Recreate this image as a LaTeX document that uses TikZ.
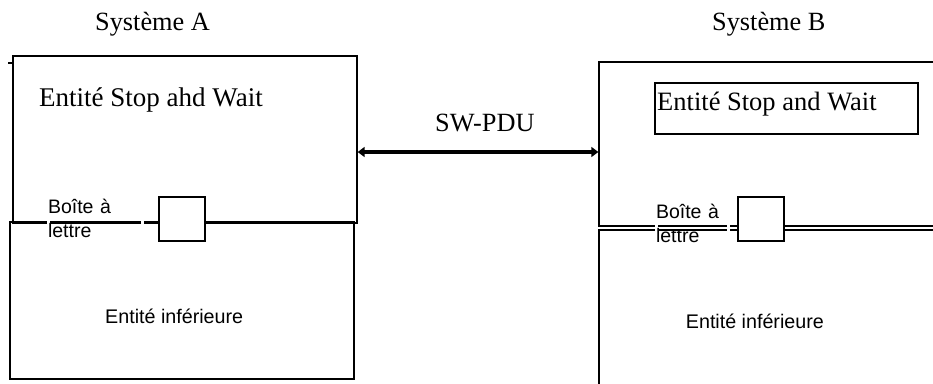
\documentclass[tikz,border=0pt]{standalone}
\usepackage{fontspec}
\setmainfont{Liberation Serif}
\newfontfamily\arialfont{Liberation Sans}
\usetikzlibrary{arrows.meta}
\begin{document}
\begin{tikzpicture}[x=1pt,y=-1pt,
  box/.style={draw, line width=2pt, inner sep=0pt, anchor=north west},
  titletext/.style={anchor=base west, inner sep=0pt, font=\fontsize{26.3}{30}\selectfont},
  sanstext/.style={anchor=base west, inner sep=0pt, font=\arialfont\fontsize{19.7}{24}\selectfont},
  mailbox/.style={draw, fill=white, line width=2pt, inner sep=0pt, anchor=north west, minimum width=46pt, minimum height=44pt},
  mailtext/.style={draw=white, line width=3pt, anchor=base west, inner xsep=0pt, inner ysep=2pt, align=left, font=\arialfont\fontsize{19.5}{24}\selectfont},
  pdu/.style={line width=3.5pt, {Triangle[length=7pt,width=10pt]}-{Triangle[length=7pt,width=10pt]}}
]
\useasboundingbox (0,0) rectangle (933,383);
\clip (0,0) rectangle (933,383);

% System labels
\node[titletext] (labA) at (95,30.7) {Système A};
\node[titletext] (labB) at (712,30.7) {Système B};

% System A boxes
\node[box, minimum width=344pt, minimum height=167pt] (aTop) at (11.7,55) {};
\node[box, minimum width=344pt, minimum height=157.6pt] (aBot) at (9.3,220.7) {};
\draw[line width=2pt] (aTop.north west) ++(-3.7,8) -- ++(3.7,0);

% System B boxes (extend past the right edge)
\node[box, minimum width=360pt, minimum height=164.5pt] (bTop) at (598.3,60.5) {};
\node[box, minimum width=360pt, minimum height=170pt] (bBot) at (598.3,229.3) {};

% Upper entities
\node[titletext, font=\fontsize{27}{30}\selectfont] (entA) at (39,106.7) {Entité Stop ahd Wait};
\node[box, minimum width=262.7pt, minimum height=51pt] (entBbox) at (654,81.7) {};
\node[titletext, font=\fontsize{26.5}{30}\selectfont] (entB) at (657,110) {Entité Stop and Wait};

% Mailboxes
\node[mailbox] (sqA) at (158,196) {};
\node[mailbox] (sqB) at (736.7,196) {};
\node[mailtext, text width=94pt] (mbA) at (46.5,213.3) {Boîte à\\lettre};
\node[mailtext, text width=72pt] (mbB) at (654.5,218) {Boîte à\\lettre};

% Lower entities
\node[sanstext] (infA) at (105,323.3) {Entité inférieure};
\node[sanstext] (infB) at (685.7,328.3) {Entité inférieure};

% PDU exchange
\coordinate (arr) at (0,152);
\draw[pdu] (aTop.east |- arr) -- (bTop.west |- arr);
\node[titletext] (pduLab) at (435,131.7) {SW-PDU};
\end{tikzpicture}
\end{document}
